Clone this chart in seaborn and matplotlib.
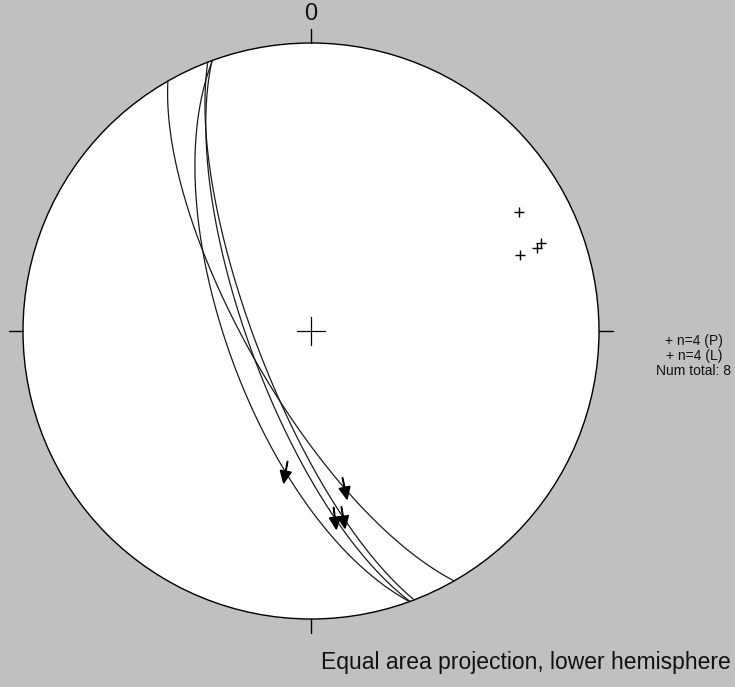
import numpy as np
import pandas as pd
import matplotlib
matplotlib.use("Agg")
import matplotlib.pyplot as plt
import seaborn as sns
from matplotlib.patches import Circle

# Fault planes: dip direction and dip (degrees)
plane_ids = ["F1", "F2", "F3", "F4"]
dip_dirs = [240.2, 250.0, 249.9, 249.0]
dips = [72.2, 66.2, 72.3, 74.3]
# Trend of the slip lineation on each plane (its plunge follows from the plane)
striae_trends = [167.9, 190.2, 172.7, 170.2]

legend_lines = ["+ n=4 (P)", "+ n=4 (L)", "Num total: 8"]
north_label = "0"
caption = "Equal area projection, lower hemisphere"

BG = "#c0c0c0"
FONT = ["Liberation Sans", "DejaVu Sans"]

# canvas layout in pixels: net centre and radius
W, H = 735, 687
CX, CY, R = 311, 331, 288


def unit_vec(trend, plunge):
    t, p = np.radians(trend), np.radians(plunge)
    return np.array([np.cos(p) * np.sin(t), np.cos(p) * np.cos(t), np.sin(p)])


def schmidt(v):
    """Lower-hemisphere equal-area projection of (east, north, down) vectors."""
    e, n, d = v
    k = 1.0 / np.sqrt(1.0 + d)
    return e * k, n * k


sns.set_theme(style="white")
plt.rcParams["font.family"] = FONT

fig = plt.figure(figsize=(W / 100, H / 100), dpi=100, facecolor=BG)
ax = fig.add_axes([0, 0, 1, 1])
ax.set_xlim(-CX / R, (W - CX) / R)
ax.set_ylim((CY - H) / R, CY / R)
ax.axis("off")

# primitive circle
ax.add_patch(Circle((0, 0), 1.0, facecolor="white", edgecolor="black", lw=1.0, zorder=1))

# cardinal ticks and centre cross
tick = 14 / R
for az in (0, 90, 180, 270):
    s, c = np.sin(np.radians(az)), np.cos(np.radians(az))
    ax.plot([s, s * (1 + tick)], [c, c * (1 + tick)], color="black", lw=1.0, zorder=3)
ax.plot([-tick, tick], [0, 0], color="black", lw=0.9, zorder=3)
ax.plot([0, 0], [-tick, tick], color="black", lw=0.9, zorder=3)

# great circles
rows = []
t = np.linspace(0, np.pi, 361)
for pid, dd, dp in zip(plane_ids, dip_dirs, dips):
    s_vec = unit_vec(dd - 90, 0)
    d_vec = unit_vec(dd, dp)
    v = np.outer(s_vec, np.cos(t)) + np.outer(d_vec, np.sin(t))
    x, y = schmidt(v)
    rows.append(pd.DataFrame({"x": x, "y": y, "plane": pid, "order": np.arange(len(t))}))
circles = pd.concat(rows, ignore_index=True)
sns.lineplot(data=circles, x="x", y="y", units="plane", estimator=None, sort=False,
             color="#1a1a1a", lw=0.9, legend=False, ax=ax, zorder=2)

# poles to planes
poles = np.array([schmidt(unit_vec(dd + 180, 90 - dp)) for dd, dp in zip(dip_dirs, dips)])
sns.scatterplot(x=poles[:, 0], y=poles[:, 1], marker="+", s=55, color="black",
                linewidth=1.0, ax=ax, zorder=4)

# slip lineations drawn as arrows pointing down-plunge
L = 22 / R
for dd, dp, tr in zip(dip_dirs, dips, striae_trends):
    pl = np.degrees(np.arctan(np.tan(np.radians(dp)) * np.cos(np.radians(tr - dd))))
    px, py = schmidt(unit_vec(tr, pl))
    ux, uy = np.sin(np.radians(tr)), np.cos(np.radians(tr))
    ax.arrow(px - 0.5 * L * ux, py - 0.5 * L * uy, L * ux, L * uy,
             width=0.002, head_width=11 / R, head_length=12 / R,
             length_includes_head=True, color="black", zorder=5)


def px2data(x, y):
    return (x - CX) / R, (CY - y) / R


ax.text(*px2data(311, 14), north_label, ha="center", va="center", fontsize=17, color="#111111")

for i, line in enumerate(legend_lines):
    ax.text(*px2data(694, 341 + 15 * i), line, ha="center", va="center",
            fontsize=10, color="#111111")

ax.text(*px2data(731, 663), caption, ha="right", va="center", fontsize=16.5, color="#111111")

fig.savefig("out.png", dpi=100, facecolor=BG)
